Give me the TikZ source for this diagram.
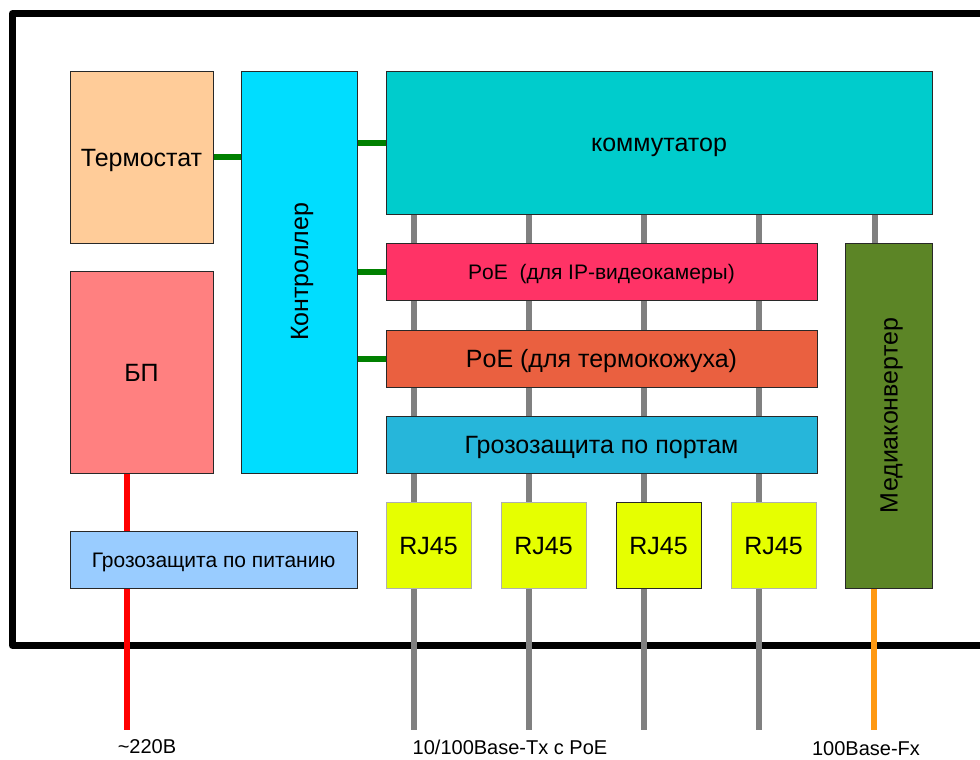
\documentclass[tikz,border=0pt]{standalone}
\usepackage{fontspec}
\setmainfont{Liberation Sans}
\usetikzlibrary{backgrounds}
\definecolor{cThermo}{RGB}{255,204,153}
\definecolor{cCtl}{RGB}{0,221,255}
\definecolor{cSw}{RGB}{0,204,204}
\definecolor{cPoeA}{RGB}{255,51,102}
\definecolor{cPoeB}{RGB}{234,96,64}
\definecolor{cGP}{RGB}{38,182,218}
\definecolor{cMC}{RGB}{92,133,38}
\definecolor{cBP}{RGB}{255,128,128}
\definecolor{cGPit}{RGB}{153,204,255}
\definecolor{cRJ}{RGB}{230,255,0}
\definecolor{cGreen}{RGB}{0,128,0}
\definecolor{cGray}{RGB}{128,128,128}
\definecolor{cOrange}{RGB}{255,153,18}
\definecolor{cRed}{RGB}{255,0,0}
\definecolor{cEdge}{RGB}{40,40,40}
\definecolor{cLightEdge}{RGB}{175,175,175}
\begin{document}
\begin{tikzpicture}[x=1pt,y=-1pt,
  blk/.style={draw=cEdge,line width=0.9pt,rectangle,inner sep=0pt,outer sep=0pt,align=center,text height=18pt,text depth=0pt,font=\fontsize{25}{28}\selectfont},
  smalltxt/.style={text height=15pt,font=\fontsize{21}{24}\selectfont},
  rottxt/.style={rotate=90,font=\fontsize{25}{28}\selectfont,inner sep=0pt,text height=18pt,text depth=0pt},
  lbl/.style={inner sep=0pt,font=\fontsize{20}{23}\selectfont},
  gline/.style={cGreen,line width=6pt},
  pline/.style={cGray,line width=6pt},
  rline/.style={cRed,line width=6pt},
  oline/.style={cOrange,line width=6pt}]
\useasboundingbox (0,0) rectangle (980,760);
\begin{scope}[on background layer]
\draw[line width=7pt,line join=round] (990,13.5) -- (12.5,13.5) -- (12.5,645.5) -- (990,645.5);
\end{scope}
% blocks
\node[blk,fill=cThermo,minimum width=143pt,minimum height=172pt] (thermo) at (141.5,157) {Термостат};
\node[blk,fill=cCtl,minimum width=116pt,minimum height=402pt] (ctl) at (299,272) {};
\node[rottxt] (ctltxt) at (ctl.center) {Контроллер};
\node[blk,fill=cSw,minimum width=546pt,minimum height=143pt] (sw) at (659,142.5) {коммутатор};
\node[blk,smalltxt,fill=cPoeA,minimum width=431pt,minimum height=57pt] (poe1) at (601.5,271.5) {PoE~ (для IP-видеокамеры)};
\node[blk,fill=cPoeB,minimum width=431pt,minimum height=57pt] (poe2) at (601.5,358.5) {PoE (для термокожуха)};
\node[blk,fill=cGP,minimum width=431pt,minimum height=57pt] (gp) at (601.5,444.5) {Грозозащита по портам};
\node[blk,fill=cMC,minimum width=87pt,minimum height=345pt] (mc) at (888.5,415.5) {};
\node[rottxt] (mctxt) at (mc.center) {Медиаконвертер};
\node[blk,fill=cBP,minimum width=143pt,minimum height=202pt] (bp) at (141.5,372) {БП};
\node[blk,smalltxt,fill=cGPit,minimum width=287pt,minimum height=57pt] (gpit) at (213.5,559.5) {Грозозащита по питанию};
\node[blk,draw=cLightEdge,fill=cRJ,minimum width=85pt,minimum height=86pt] (rj1) at (428.5,545) {RJ45};
\node[blk,draw=cLightEdge,fill=cRJ,minimum width=85pt,minimum height=86pt] (rj2) at (543.5,545) {RJ45};
\node[blk,fill=cRJ,minimum width=85pt,minimum height=86pt] (rj3) at (658.5,545) {RJ45};
\node[blk,draw=cLightEdge,fill=cRJ,minimum width=85pt,minimum height=86pt] (rj4) at (773.5,545) {RJ45};
% labels
\node[lbl] (l220) at (147,747) {\char"7E 220В};
\node[lbl] (ltx) at (510,747) {10/100Base-Tx с PoE};
\node[lbl] (lfx) at (866,749) {100Base-Fx};
% end points
\coordinate (p1) at (414,730);
\coordinate (p2) at (529,730);
\coordinate (p3) at (644,730);
\coordinate (p4) at (759,730);
\coordinate (pr) at (127,730);
\coordinate (po) at (874,730);
\coordinate (pm) at (875,0);
% connectors
\begin{scope}[on background layer]
\draw[gline] (thermo.east) -- (thermo.east -| ctl.west);
\draw[gline] (ctl.east |- sw.west) -- (sw.west);
\draw[gline] (ctl.east |- poe1.west) -- (poe1.west);
\draw[gline] (ctl.east |- poe2.west) -- (poe2.west);
\draw[pline] (p1 |- sw.south) -- (p1);
\draw[pline] (p2 |- sw.south) -- (p2);
\draw[pline] (p3 |- sw.south) -- (p3);
\draw[pline] (p4 |- sw.south) -- (p4);
\draw[pline] (pm |- sw.south) -- (pm |- mc.north);
\draw[rline] (pr |- bp.south) -- (pr);
\draw[oline] (po |- mc.south) -- (po);
\end{scope}
\end{tikzpicture}
\end{document}
